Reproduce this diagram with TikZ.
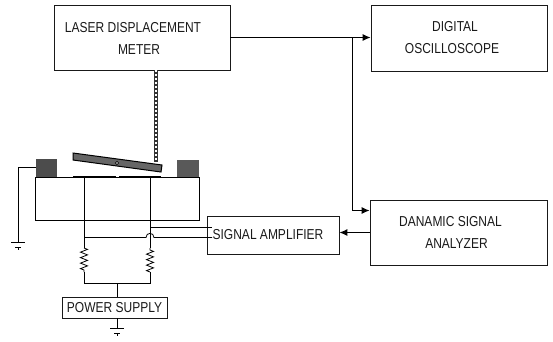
\documentclass[tikz,border=0pt]{standalone}
\usepackage{fontspec}
\setmainfont{Liberation Sans}
\usetikzlibrary{arrows.meta}
\usetikzlibrary{decorations.pathmorphing}
\newcommand{\tallcaps}[1]{\scalebox{1}[1.2]{#1}}
\tikzset{
    unitbox/.style={draw,line width=0.9pt,black!90,text=black!90,align=center,font=\fontsize{12}{22}\selectfont,inner sep=0pt},
    wire/.style={black,line width=0.8pt},
    signal/.style={-{Latex[length=8pt,width=7pt]},black,line width=1pt},
    resistor/.style={decorate,decoration={zigzag,segment length=5.5pt,amplitude=3.5pt}}
}
\begin{document}
\begin{tikzpicture}[x=1pt,y=-1pt]
        \useasboundingbox (0,0) rectangle (553,341);
        \node[unitbox,minimum width=176pt,minimum height=65pt] (laser) at (142,38) {\tallcaps{LASER DISPLACEMENT}\hspace*{18pt}\\\tallcaps{METER}\hspace*{6pt}};
        \node[unitbox,minimum width=176pt,minimum height=66pt] (scope) at (459,38) {\tallcaps{DIGITAL}\hspace*{8pt}\\\tallcaps{OSCILLOSCOPE}\hspace*{14pt}};
        \node[unitbox,minimum width=177pt,minimum height=65pt] (analyzer) at (458.5,232.5) {\tallcaps{DANAMIC SIGNAL}\hspace*{16pt}\\\tallcaps{ANALYZER}\hspace*{4pt}};
        \node[unitbox,minimum width=132pt,minimum height=38pt] (amplifier) at (273,235) {\tallcaps{SIGNAL AMPLIFIER}\hspace*{10pt}};
        \node[unitbox,minimum width=105pt,minimum height=21pt] (supply) at (114.5,307.5) {\tallcaps{POWER SUPPLY}};
        \coordinate (branch) at (352,37.5);
        \coordinate (analyzerin) at (analyzer.west |- 0,210.5);
        \coordinate (ampone) at (212,227.5);
        \coordinate (amptwo) at (212,237.5);
        \draw[signal] (laser.east |- branch) -- (scope.west |- branch);
        \draw[signal] (branch) |- (analyzerin);
        \draw[signal] (analyzer.west) -- (amplifier.east |- analyzer.west);
        % beam
        \draw[black!80,line width=4pt] (156,70) -- (156,162);
        \draw[white,line width=1.2pt,dash pattern=on 2pt off 2pt] (156,70) -- (156,162);
        % sample and clamps
        \fill[black!70] (36,159) rectangle (57,177);
        \fill[black!65] (177,160) rectangle (199,177);
        \draw[wire] (35,177) rectangle (199,220);
        \draw[black,line width=1.6pt] (73,176.5) -- (116,176.5) (119,176.5) -- (161,176.5);
        \draw[black,fill=black!60,line width=1pt] (73,153) -- (162,165) -- (161,172) -- (73,160) -- cycle;
        \draw[fill=white,semithick] (117,163) circle (1.6pt);
        % bridge
        \coordinate (legl) at (84,283);
        \coordinate (legr) at (150,283);
        \draw[wire] (84,177) -- (84,248);
        \draw[wire,resistor] (84,248) -- (84,272);
        \draw[wire] (84,272) -- (legl) -- (legr) -- (150,272);
        \draw[wire,resistor] (150,272) -- (150,248);
        \draw[wire] (150,248) -- (150,177);
        \draw[wire] (117,283) -- (supply.north -| 117,0);
        \draw[wire] (150,227.5) -- (ampone);
        \draw[wire] (84,237.5) -- (146,237.5) .. controls (146,232) and (154,232) .. (154,237.5) -- (amptwo);
        % grounds
        \draw[wire] (36,167) -- (18,167) -- (18,242);
        \foreach \x/\y in {18/242,117/328}{
            \draw[line width=1pt] (\x-7,\y) -- (\x+7,\y);
            \draw[wire] (\x-3,\y+5) -- (\x+3,\y+5) (\x,\y+5) -- (\x,\y+8);
        }
        \draw[wire] (supply.south -| 117,0) -- (117,328);
    \end{tikzpicture}
\end{document}
